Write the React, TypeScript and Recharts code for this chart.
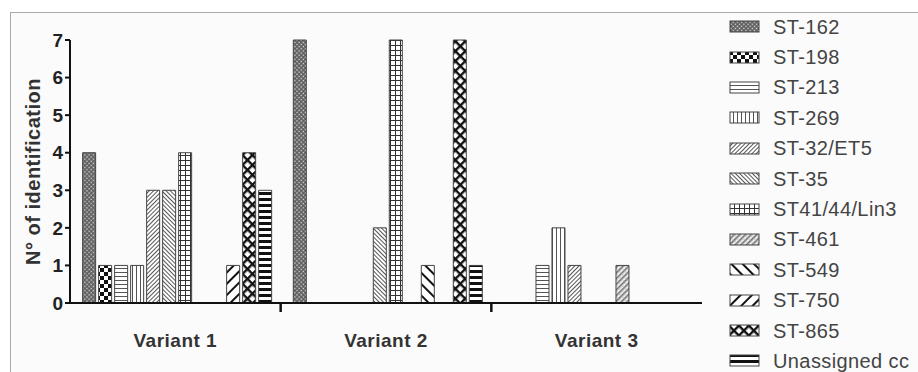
import { BarChart, Bar, XAxis, YAxis } from 'recharts';

const categories = ['Variant 1', 'Variant 2', 'Variant 3'];
const seriesNames = [
  'ST-162', 'ST-198', 'ST-213', 'ST-269', 'ST-32/ET5', 'ST-35',
  'ST41/44/Lin3', 'ST-461', 'ST-549', 'ST-750', 'ST-865', 'Unassigned cc',
];
const st162 = [4, 7, 0];
const st198 = [1, 0, 0];
const st213 = [1, 0, 1];
const st269 = [1, 0, 2];
const st32 = [3, 0, 1];
const st35 = [3, 2, 0];
const st41 = [4, 7, 0];
const st461 = [0, 0, 1];
const st549 = [0, 1, 0];
const st750 = [1, 0, 0];
const st865 = [4, 7, 0];
const unassigned = [3, 1, 0];
const yTicks = [0, 1, 2, 3, 4, 5, 6, 7];

const seriesValues = [st162, st198, st213, st269, st32, st35, st41, st461, st549, st750, st865, unassigned];
const patternIds = ['p162', 'p198', 'p213', 'p269', 'p32', 'p35', 'p41', 'p461', 'p549', 'p750', 'p865', 'pun'];

const data = categories.map((name, i) => {
  const row: Record<string, string | number> = { name };
  seriesValues.forEach((vals, s) => { row['s' + s] = vals[i]; });
  return row;
});

const FONT = '"Liberation Sans", Arial, Helvetica, sans-serif';
const INK = '#333';

function Patterns() {
  return (
    <svg width={0} height={0} style={{ position: 'absolute' }}>
      <defs>
        <pattern id="p162" width={3} height={3} patternUnits="userSpaceOnUse" patternTransform="rotate(45)">
          <rect width={3} height={3} fill="#5a5a5a" />
          <rect x={0.8} y={0.8} width={1.4} height={1.4} fill="#e8e8e8" />
        </pattern>
        <pattern id="p198" width={8} height={8} patternUnits="userSpaceOnUse">
          <rect width={8} height={8} fill="#fff" />
          <rect width={4} height={4} fill="#111" />
          <rect x={4} y={4} width={4} height={4} fill="#111" />
        </pattern>
        <pattern id="p213" width={4} height={4} patternUnits="userSpaceOnUse">
          <rect width={4} height={4} fill="#fff" />
          <line x1={0} y1={0.5} x2={4} y2={0.5} stroke="#555" strokeWidth={1} />
        </pattern>
        <pattern id="p269" width={4} height={4} patternUnits="userSpaceOnUse">
          <rect width={4} height={4} fill="#fff" />
          <line x1={0.5} y1={0} x2={0.5} y2={4} stroke="#555" strokeWidth={1} />
        </pattern>
        <pattern id="p32" width={3} height={3} patternUnits="userSpaceOnUse" patternTransform="rotate(45)">
          <rect width={3} height={3} fill="#fff" />
          <line x1={0.5} y1={0} x2={0.5} y2={3} stroke="#555" strokeWidth={1} />
        </pattern>
        <pattern id="p35" width={3} height={3} patternUnits="userSpaceOnUse" patternTransform="rotate(-45)">
          <rect width={3} height={3} fill="#fff" />
          <line x1={0.5} y1={0} x2={0.5} y2={3} stroke="#555" strokeWidth={1} />
        </pattern>
        <pattern id="p41" width={5} height={5} patternUnits="userSpaceOnUse">
          <rect width={5} height={5} fill="#fff" />
          <line x1={0} y1={0.5} x2={5} y2={0.5} stroke="#333" strokeWidth={1} />
          <line x1={0.5} y1={0} x2={0.5} y2={5} stroke="#333" strokeWidth={1} />
        </pattern>
        <pattern id="p461" width={4} height={4} patternUnits="userSpaceOnUse" patternTransform="rotate(45)">
          <rect width={4} height={4} fill="#eee" />
          <line x1={0.75} y1={0} x2={0.75} y2={4} stroke="#666" strokeWidth={1.5} />
          <line x1={0} y1={2} x2={4} y2={2} stroke="#aaa" strokeWidth={0.6} />
        </pattern>
        <pattern id="p549" width={8} height={8} patternUnits="userSpaceOnUse" patternTransform="rotate(-45)">
          <rect width={8} height={8} fill="#fff" />
          <line x1={1} y1={0} x2={1} y2={8} stroke="#111" strokeWidth={2} />
        </pattern>
        <pattern id="p750" width={8} height={8} patternUnits="userSpaceOnUse" patternTransform="rotate(45)">
          <rect width={8} height={8} fill="#fff" />
          <line x1={1} y1={0} x2={1} y2={8} stroke="#111" strokeWidth={2} />
        </pattern>
        <pattern id="p865" width={7} height={7} patternUnits="userSpaceOnUse" patternTransform="rotate(45)">
          <rect width={7} height={7} fill="#fff" />
          <line x1={1.2} y1={0} x2={1.2} y2={7} stroke="#111" strokeWidth={2.4} />
          <line x1={0} y1={1.2} x2={7} y2={1.2} stroke="#111" strokeWidth={2.4} />
        </pattern>
        <pattern id="pun" width={6} height={6} patternUnits="userSpaceOnUse">
          <rect width={6} height={6} fill="#fff" />
          <line x1={0} y1={1.5} x2={6} y2={1.5} stroke="#111" strokeWidth={3} />
        </pattern>
      </defs>
    </svg>
  );
}

function VariantTick(props: any) {
  const { x, y, payload, index } = props;
  const last = index === categories.length - 1;
  return (
    <g>
      {!last && (
        <line x1={x + payload.offset} x2={x + payload.offset} y1={y} y2={y + 9} stroke="#111" strokeWidth={2.5} />
      )}
      <text x={x} y={y + 44} textAnchor="middle" fill={INK} fontFamily={FONT} fontWeight="bold" fontSize={19} letterSpacing={0.5}>
        {payload.value}
      </text>
    </g>
  );
}

export default function App() {
  return (
    <div style={{ position: 'absolute', left: 0, top: 0, width: 918, height: 372, background: '#fff', overflow: 'hidden' }}>
      <Patterns />
      <div style={{ position: 'absolute', left: 10, top: 12, width: 920, height: 380, border: '1px solid #aaa', background: '#fbfbfb' }} />
      <div style={{ position: 'absolute', left: 0, top: 0 }}>
        <BarChart width={918} height={372} data={data} margin={{ top: 40, right: 216, bottom: 0, left: 0 }} barCategoryGap="6%" barGap={3}>
          <XAxis
            dataKey="name"
            height={69}
            tickLine={false}
            tickSize={0}
            tickMargin={0}
            axisLine={{ stroke: '#111', strokeWidth: 2 }}
            tick={<VariantTick />}
            interval={0}
          />
          <YAxis
            width={70}
            domain={[0, 7]}
            ticks={yTicks}
            tickSize={5}
            tickMargin={2}
            axisLine={{ stroke: '#111', strokeWidth: 2 }}
            tickLine={{ stroke: '#111', strokeWidth: 2 }}
            tick={{ fill: '#222', fontSize: 19, fontWeight: 'bold', fontFamily: FONT }}
            label={{
              value: 'N° of identification',
              angle: -90,
              position: 'insideLeft',
              offset: 33,
              style: { textAnchor: 'middle', fill: INK, fontSize: 20, fontWeight: 'bold', fontFamily: FONT, letterSpacing: 0.5 },
            }}
          />
          {seriesNames.map((n, s) => (
            <Bar key={n} dataKey={'s' + s} name={n} fill={`url(#${patternIds[s]})`} stroke="#444" strokeWidth={1} isAnimationActive={false} />
          ))}
        </BarChart>
      </div>
      <div style={{ position: 'absolute', left: 729, top: 12, fontFamily: FONT }}>
        {seriesNames.map((n, s) => (
          <div key={n} style={{ display: 'flex', alignItems: 'center', height: 30.4 }}>
            <svg width={32} height={14} style={{ marginRight: 12 }}>
              <rect x={1} y={1} width={29} height={11} fill={`url(#${patternIds[s]})`} stroke="#444" strokeWidth={1} />
            </svg>
            <span style={{ fontSize: 20, color: '#444', letterSpacing: 0.4, whiteSpace: 'nowrap' }}>{n}</span>
          </div>
        ))}
      </div>
    </div>
  );
}
